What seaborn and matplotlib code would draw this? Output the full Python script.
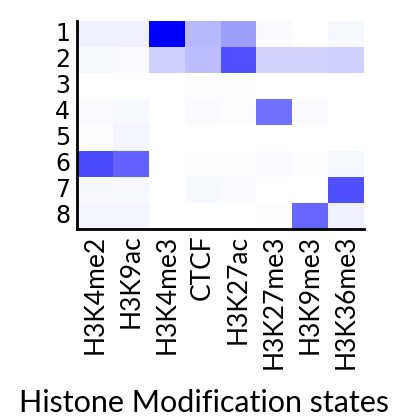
import numpy as np
import pandas as pd
import seaborn as sns
import matplotlib
matplotlib.use("Agg")
import matplotlib.pyplot as plt
from matplotlib.colors import LinearSegmentedColormap

states = ["1", "2", "3", "4", "5", "6", "7", "8"]
marks = ["H3K4me2", "H3K9ac", "H3K4me3", "CTCF", "H3K27ac",
         "H3K27me3", "H3K9me3", "H3K36me3"]
row1 = [0.06, 0.06, 1.00, 0.28, 0.38, 0.02, 0.00, 0.03]
row2 = [0.03, 0.02, 0.18, 0.26, 0.69, 0.17, 0.17, 0.18]
row3 = [0.00, 0.00, 0.00, 0.01, 0.01, 0.00, 0.00, 0.00]
row4 = [0.02, 0.03, 0.00, 0.02, 0.01, 0.56, 0.02, 0.00]
row5 = [0.01, 0.04, 0.00, 0.00, 0.00, 0.00, 0.00, 0.00]
row6 = [0.71, 0.62, 0.00, 0.01, 0.01, 0.02, 0.01, 0.03]
row7 = [0.03, 0.03, 0.00, 0.03, 0.02, 0.00, 0.00, 0.69]
row8 = [0.04, 0.04, 0.00, 0.00, 0.00, 0.01, 0.60, 0.06]

df = pd.DataFrame([row1, row2, row3, row4, row5, row6, row7, row8],
                  index=states, columns=marks)

cmap = LinearSegmentedColormap.from_list("wb", ["#ffffff", "#0000ff"])

fig = plt.figure(figsize=(4.04, 4.19), dpi=100)
ax = fig.add_axes([0.1906, 0.4535, 0.7104, 0.4964])
sns.heatmap(df, ax=ax, cmap=cmap, vmin=0, vmax=1, cbar=False)

for s in ["left", "bottom"]:
    ax.spines[s].set_visible(True)
    ax.spines[s].set_color("black")
    ax.spines[s].set_linewidth(2)
ax.tick_params(axis="both", length=0)
ax.tick_params(axis="y", pad=5)
ax.tick_params(axis="x", pad=4)
ax.set_yticklabels(states, rotation=0, fontsize=17, family="DejaVu Sans",
                   va="center")
ax.set_xticklabels(marks, rotation=90, fontsize=19, family="Lato",
                   ha="center", va="top")
ax.set_xlabel("")
ax.set_ylabel("")

fig.text(0.505, 0.038, "Histone Modification states", ha="center",
         va="center", fontsize=22, family="Lato")

fig.savefig("out.png", dpi=100)
